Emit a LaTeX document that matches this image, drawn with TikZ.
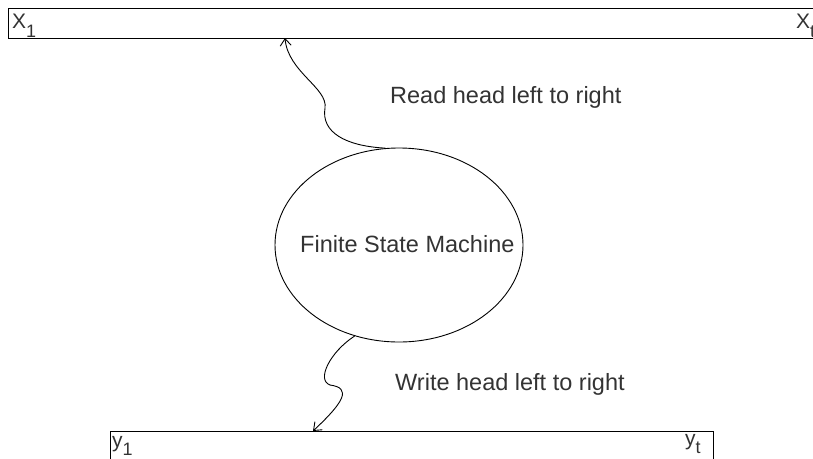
\documentclass[tikz,border=0pt]{standalone}
\usepackage{fontspec}
\setmainfont{Liberation Sans}
\usetikzlibrary{shapes.geometric,arrows.meta}
\definecolor{txt}{HTML}{333333}
\tikzset{
  tapebox/.style={draw=black, line width=0.9pt, inner sep=0pt},
  fsmshape/.style={ellipse, draw=black, line width=0.9pt, inner sep=0pt, minimum width=248pt, minimum height=194pt},
  lbl/.style={text=txt, font=\fontsize{23.5}{26}\selectfont, inner sep=0pt, anchor=base west},
  tlbl/.style={text=txt, font=\fontsize{21}{24}\selectfont, inner sep=0pt, anchor=base west},
  headarrow/.style={-{Straight Barb[length=7pt,width=11pt]}, line width=0.9pt, black}
}
\newcommand{\tsub}[1]{\raisebox{-0.42em}{\fontsize{18}{18}\selectfont #1}}
\begin{document}
\begin{tikzpicture}[x=1pt,y=-1pt]
\clip (0,0) rectangle (813,458);
% tapes
\node[tapebox, minimum width=820pt, minimum height=30pt, anchor=north west] (toptape) at (8,8) {};
\node[tapebox, minimum width=603pt, minimum height=40pt, anchor=north west] (bottape) at (110,431) {};
\node[tlbl] (x1) at (12,28.5) {X\tsub{1}};
\node[tlbl] (xt) at (796,28.5) {X\tsub{t}};
\node[tlbl] (y1) at (112,447) {y\tsub{1}};
\node[tlbl] (yt) at (685,445) {y\tsub{t}};
% machine
\node[fsmshape] (fsm) at (399,245) {};
\node[lbl] (fsmtext) at (300,252) {Finite State Machine};
% labels
\node[lbl] (readlbl) at (390,103) {Read head left to right};
\node[lbl] (writelbl) at (395,390) {Write head left to right};
% head positions
\coordinate (readpt) at (285,38);
\coordinate (writept) at (313,431);
% arrows
\draw[headarrow] (fsm.98) .. controls (345,146) and (321,132) .. (325,108)
  .. controls (328,88) and (288,72) .. (readpt);
\draw[headarrow] (fsm.244) .. controls (330,352) and (316,380) .. (330,385)
  .. controls (352,388) and (344,402) .. (writept);
\end{tikzpicture}
\end{document}
